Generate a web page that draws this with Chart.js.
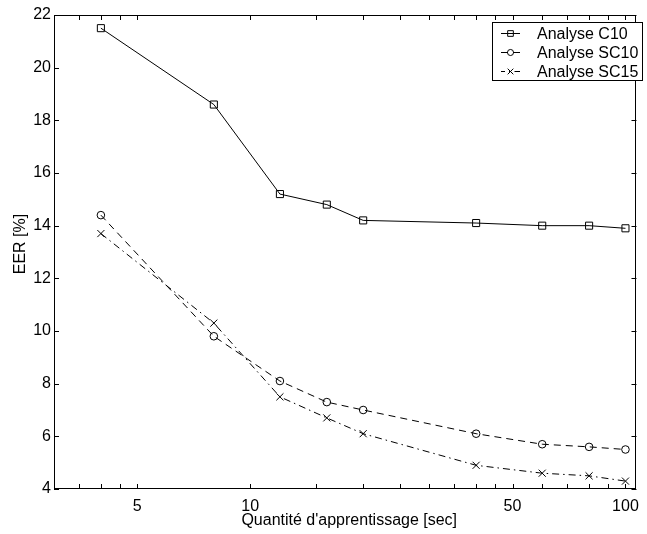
<!DOCTYPE html>
<html><head><meta charset="utf-8">
<script src="https://cdn.jsdelivr.net/npm/chart.js@4/dist/chart.umd.min.js"></script>
<style>html,body{margin:0;padding:0;background:#fff}</style>
</head><body>
<canvas id="c" width="647" height="534" style="display:block"></canvas>
<script>
const quantite = [4, 8, 12, 16, 20, 40, 60, 80, 100];
const eerC10 = [21.5, 18.6, 15.2, 14.8, 14.2, 14.1, 14.0, 14.0, 13.9];
const eerSC10 = [14.4, 9.8, 8.1, 7.3, 7.0, 6.1, 5.7, 5.6, 5.5];
const eerSC15 = [13.7, 10.3, 7.5, 6.7, 6.1, 4.9, 4.6, 4.5, 4.3];
const seriesNames = ['Analyse C10', 'Analyse SC10', 'Analyse SC15'];
const xTickLabels = [5, 10, 50, 100];
const xMinorTicks = [3.5, 4, 4.5, 5, 10, 15, 20, 25, 30, 35, 40, 45, 50, 60, 70, 80, 90, 100];
const yTickLabels = [4, 6, 8, 10, 12, 14, 16, 18, 20, 22];
const xTitle = "Quantité d'apprentissage [sec]";
const yTitle = 'EER [%]';

const FONT = '"Liberation Sans", Arial, Helvetica, sans-serif';
const toPts = (ys) => quantite.map((x, i) => ({x: x, y: ys[i]}));

const common = {borderColor: '#000', borderWidth: 1, pointBorderColor: '#000',
  pointBackgroundColor: 'rgba(0,0,0,0)', pointBorderWidth: 1, tension: 0, fill: false};

const datasets = [
  Object.assign({}, common, {label: seriesNames[0], data: toPts(eerC10), pointStyle: 'rect', pointRadius: 5, borderDash: []}),
  Object.assign({}, common, {label: seriesNames[1], data: toPts(eerSC10), pointStyle: 'circle', pointRadius: 3.8, borderDash: [7, 5]}),
  Object.assign({}, common, {label: seriesNames[2], data: toPts(eerSC15), pointStyle: 'crossRot', pointRadius: 5, borderDash: [7, 4, 1.5, 4]})
];

const framePlugin = {
  id: 'frame',
  afterDatasetsDraw(chart) {
    const ctx = chart.ctx, a = chart.chartArea;
    const xs = chart.scales.x, ys = chart.scales.y;
    ctx.save();
    ctx.strokeStyle = '#000';
    ctx.lineWidth = 1;
    ctx.setLineDash([]);
    ctx.strokeRect(Math.round(a.left) + 0.5, Math.round(a.top) + 0.5,
      Math.round(a.right - a.left) - 1, Math.round(a.bottom - a.top) - 1);
    const tl = 5;
    ctx.beginPath();
    xMinorTicks.forEach(v => {
      const px = Math.round(xs.getPixelForValue(v)) + 0.5;
      ctx.moveTo(px, a.bottom); ctx.lineTo(px, a.bottom - tl);
      ctx.moveTo(px, a.top); ctx.lineTo(px, a.top + tl);
    });
    yTickLabels.forEach(v => {
      const py = Math.round(ys.getPixelForValue(v)) + 0.5;
      ctx.moveTo(a.left, py); ctx.lineTo(a.left + tl, py);
      ctx.moveTo(a.right, py); ctx.lineTo(a.right - tl, py);
    });
    ctx.stroke();

    // axis titles
    ctx.fillStyle = '#000';
    ctx.font = '16px ' + FONT;
    ctx.textAlign = 'center';
    ctx.textBaseline = 'middle';
    ctx.fillText(xTitle, (a.left + a.right) / 2 + 4, 521);
    ctx.save();
    ctx.translate(21, (a.top + a.bottom) / 2 - 8);
    ctx.rotate(-Math.PI / 2);
    ctx.fillText(yTitle, 0, 0);
    ctx.restore();

    // legend
    const lx0 = 492, ly0 = 22, lx1 = 643, ly1 = 81;
    ctx.fillStyle = '#fff';
    ctx.fillRect(lx0, ly0, lx1 - lx0, ly1 - ly0);
    ctx.strokeStyle = '#000';
    ctx.strokeRect(lx0 + 0.5, ly0 + 0.5, lx1 - lx0 - 1, ly1 - ly0 - 1);
    chart.data.datasets.forEach((ds, i) => {
      const cy = 33 + i * 19 + 0.5;
      ctx.save();
      ctx.strokeStyle = ds.borderColor;
      ctx.fillStyle = 'rgba(0,0,0,0)';
      ctx.lineWidth = 1;
      ctx.setLineDash(ds.borderDash || []);
      ctx.lineDashOffset = i === 2 ? 3 : 0;
      ctx.beginPath();
      ctx.moveTo(501, cy); ctx.lineTo(520, cy);
      ctx.stroke();
      ctx.setLineDash([]);
      Chart.helpers.drawPoint(ctx, {pointStyle: ds.pointStyle, radius: ds.pointRadius * 0.8, borderWidth: 1, rotation: 0}, 510.5, cy);
      ctx.restore();
      ctx.fillStyle = '#000';
      ctx.font = '16px ' + FONT;
      ctx.textAlign = 'left';
      ctx.textBaseline = 'middle';
      ctx.fillText(ds.label, 537, cy + 1);
    });
    ctx.restore();
  }
};

new Chart(document.getElementById('c'), {
  type: 'line',
  data: {datasets: datasets},
  options: {
    responsive: false, animation: false, devicePixelRatio: 1,
    layout: {padding: {top: 15, right: 10, left: 0, bottom: 0}},
    plugins: {legend: {display: false}, tooltip: {enabled: false}},
    scales: {
      x: {
        type: 'logarithmic', min: 3, max: 107,
        grid: {display: false, drawTicks: false},
        border: {display: false},
        afterBuildTicks: s => { s.ticks = xTickLabels.map(v => ({value: v})); },
        afterFit: s => { s.height = 45; },
        ticks: {padding: 8, color: '#000', autoSkip: false, maxRotation: 0,
          font: {family: FONT, size: 16}, callback: v => String(v)}
      },
      y: {
        type: 'linear', min: 4, max: 22,
        grid: {display: false, drawTicks: false},
        border: {display: false},
        afterBuildTicks: s => { s.ticks = yTickLabels.map(v => ({value: v})); },
        afterFit: s => { s.width = 54; },
        ticks: {padding: 3, color: '#000', font: {family: FONT, size: 16}, callback: v => String(v)}
      }
    }
  },
  plugins: [framePlugin]
});
</script>
</body></html>
